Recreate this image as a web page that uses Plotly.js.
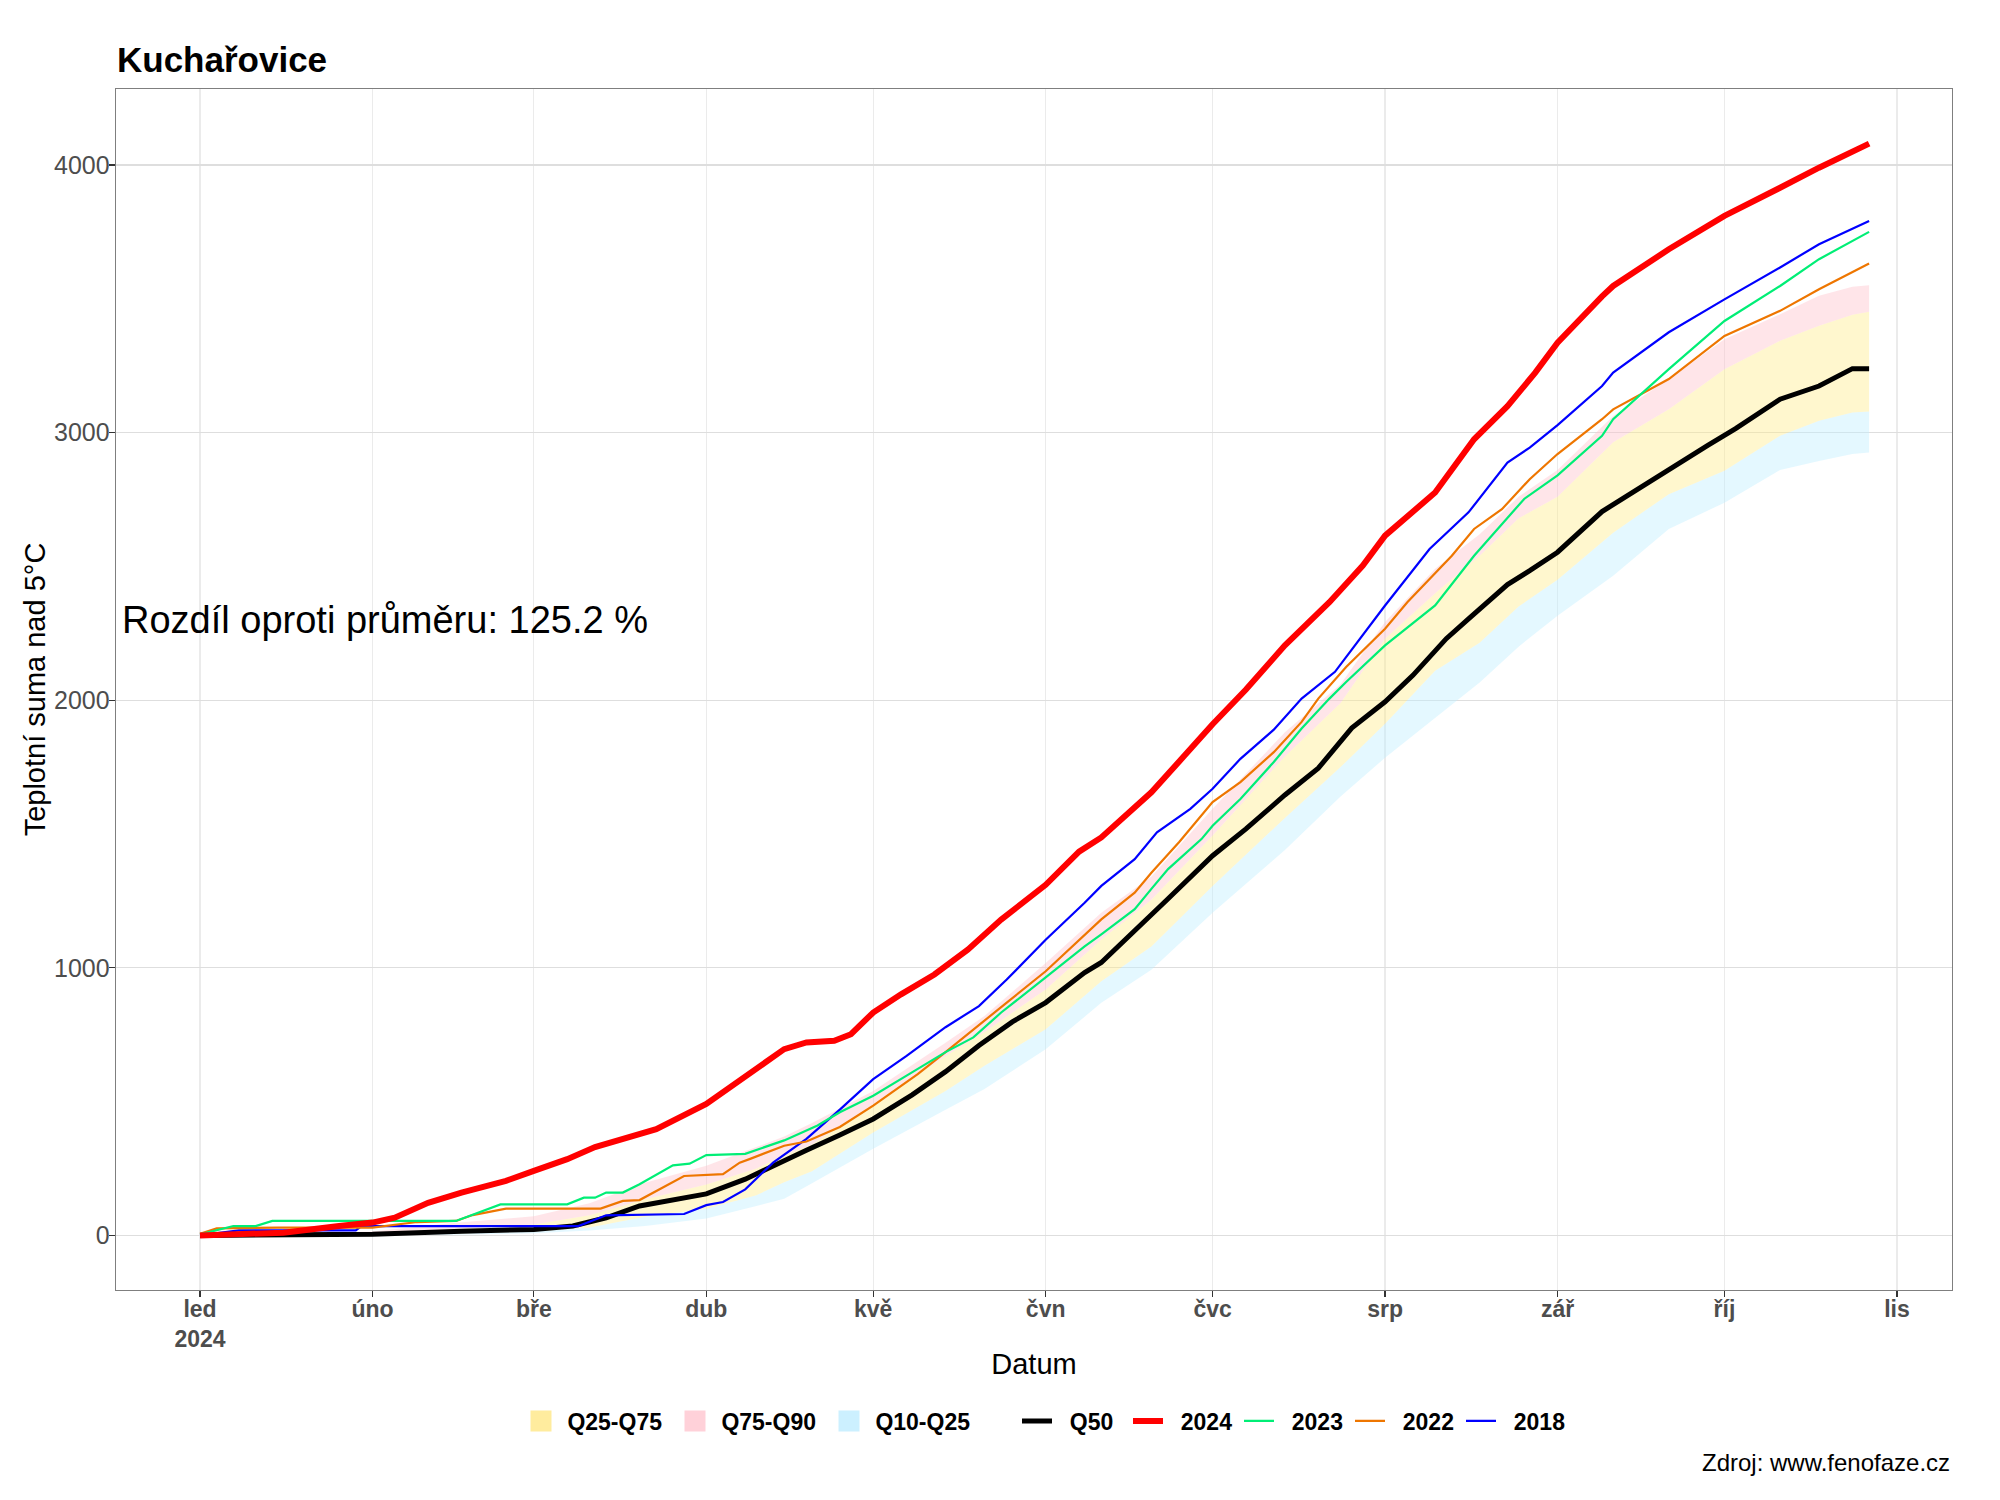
<!DOCTYPE html>
<html>
<head>
<meta charset="utf-8">
<script src="https://cdn.plot.ly/plotly-3.0.1.min.js"></script>
<style>html,body{margin:0;padding:0;background:#fff;}#chart{width:2000px;height:1500px;}</style>
</head>
<body>
<div id="chart"></div>
<script>
// Days are counted from 1 Jan 2024 (day 0 = 1 Jan).
const bandDays = [0,15,31,45,60,70,80,91,100,105,110,121,134,141,152,162,171,182,195,205,213,222,230,237,244,254,264,274,284,291,297,300];
const q10 = [0,0,0,2,8,18,35,63,110,137,195,324,470,547,696,869,993,1206,1440,1640,1785,1935,2066,2200,2316,2465,2640,2738,2860,2894,2920,2926];
const q25 = [0,0,2,6,15,30,70,100,150,199,240,385,540,634,770,950,1080,1306,1560,1750,1912,2110,2215,2350,2450,2626,2770,2857,2988,3044,3075,3079];
const q75 = [0,2,8,25,41,75,135,190,250,300,340,490,670,760,919,1106,1254,1494,1790,1990,2230,2400,2540,2680,2760,2964,3087,3237,3343,3399,3440,3452];
const q90 = [0,5,15,45,72,120,197,260,330,370,420,540,720,820,1018,1206,1341,1594,1880,2060,2292,2491,2620,2760,2860,3062,3200,3349,3442,3511,3545,3551];

const q50Days = [0,19,31,47,60,67,73,79,84,91,98,103,109,115,121,128,134,140,146,152,159,162,169,174,182,188,195,201,207,213,218,224,228,235,239,244,252,263,271,276,284,291,297,300];
const q50 = [0,0,4,16,22,35,66,110,129,155,210,257,318,375,435,525,612,710,798,870,982,1020,1156,1258,1419,1519,1646,1746,1896,1994,2093,2230,2304,2432,2484,2553,2705,2851,2952,3015,3125,3174,3239,3239];

const y2024Days = [0,15,25,31,35,41,47,55,60,66,71,76,82,91,99,105,109,114,117,121,126,132,138,144,152,158,162,165,171,177,182,188,195,203,209,213,222,229,235,240,244,252,254,264,274,284,291,300];
const y2024 = [0,10,35,48,66,122,160,204,241,285,330,360,397,491,610,696,721,727,752,833,901,975,1068,1180,1310,1434,1487,1544,1656,1794,1910,2040,2205,2366,2503,2615,2776,2975,3099,3224,3336,3509,3548,3685,3810,3915,3990,4080];

const y2023Days = [0,6,10,13,46,54,66,69,71,73,76,79,85,88,91,96,98,105,111,115,121,127,134,139,144,152,159,162,168,171,174,180,182,187,193,198,203,206,213,222,229,238,244,252,254,264,274,284,291,300];
const y2023 = [4,35,35,54,54,116,116,141,141,160,160,191,262,268,300,302,305,355,411,460,522,597,685,740,833,964,1080,1125,1219,1295,1369,1481,1531,1631,1769,1894,2006,2068,2205,2354,2540,2752,2840,2988,3050,3237,3417,3548,3648,3750];

const y2022Days = [0,3,14,31,39,46,49,55,72,76,79,87,94,97,99,105,109,115,121,129,134,139,145,152,159,162,168,171,176,180,182,187,193,198,201,206,213,217,225,229,234,239,244,252,254,264,274,284,291,300];
const y2022 = [6,26,29,29,50,54,76,100,100,129,132,222,229,272,287,335,351,405,485,603,685,770,870,987,1124,1181,1281,1355,1470,1569,1619,1694,1806,1919,2006,2124,2267,2366,2540,2640,2714,2826,2920,3050,3087,3200,3361,3455,3536,3632];

const y2018Days = [0,7,28,29,68,73,87,91,94,98,103,109,115,121,127,134,140,145,152,159,162,168,172,178,182,187,193,198,204,209,213,221,228,235,239,244,252,254,264,274,284,291,300];
const y2018 = [0,19,19,35,35,75,80,113,125,172,272,361,470,584,671,778,857,956,1105,1243,1306,1406,1506,1594,1669,1781,1890,2006,2106,2242,2354,2565,2702,2888,2944,3028,3174,3224,3375,3498,3617,3704,3791];

const monthStarts = ['2024-01-01','2024-02-01','2024-03-01','2024-04-01','2024-05-01','2024-06-01','2024-07-01','2024-08-01','2024-09-01','2024-10-01','2024-11-01'];
const monthLabels = ['led<br>2024','úno','bře','dub','kvě','čvn','čvc','srp','zář','říj','lis'];
const yTicks = [0,1000,2000,3000,4000];

const FONT = 'Liberation Sans, Arial, Helvetica, sans-serif';
const NB = '\u00A0';
const day0 = Date.UTC(2024,0,1);
function toDate(d){ return new Date(day0 + d*86400000).toISOString().replace('T',' ').slice(0,19); }
const D = arr => arr.map(toDate);
const bx = D(bandDays);

function swatch(name, color, rank){
  return {x:[null], y:[null], type:'scatter', mode:'markers', name:NB+name,
          marker:{symbol:'square', size:16, color:color, line:{color:color, width:5}},
          legend:'legend', legendrank:rank};
}

const traces = [
  {x:bx, y:q10, type:'scatter', mode:'lines', line:{width:0, color:'rgba(0,0,0,0)'}, showlegend:false, hoverinfo:'skip'},
  {x:bx, y:q25, type:'scatter', mode:'lines', line:{width:0, color:'rgba(0,0,0,0)'}, fill:'tonexty', fillcolor:'rgba(191,239,255,0.42)', showlegend:false, hoverinfo:'skip'},
  {x:bx, y:q75, type:'scatter', mode:'lines', line:{width:0, color:'rgba(0,0,0,0)'}, fill:'tonexty', fillcolor:'rgba(255,236,139,0.42)', showlegend:false, hoverinfo:'skip'},
  {x:bx, y:q90, type:'scatter', mode:'lines', line:{width:0, color:'rgba(0,0,0,0)'}, fill:'tonexty', fillcolor:'rgba(255,192,203,0.42)', showlegend:false, hoverinfo:'skip'},
  // legend keys for the ribbons
  swatch('Q25-Q75', '#FFEC9E', 1),
  swatch('Q75-Q90', '#FFD1D9', 2),
  swatch('Q10-Q25', '#CCF0FF', 3),
  // lines
  {x:D(q50Days), y:q50, type:'scatter', mode:'lines', name:NB+NB+'Q50', line:{color:'#000000', width:5}, legend:'legend2', legendrank:1},
  {x:D(y2018Days), y:y2018, type:'scatter', mode:'lines', name:NB+NB+'2018', line:{color:'#0000FF', width:2.2}, legend:'legend2', legendrank:5},
  {x:D(y2022Days), y:y2022, type:'scatter', mode:'lines', name:NB+NB+'2022', line:{color:'#EE7600', width:2.2}, legend:'legend2', legendrank:4},
  {x:D(y2023Days), y:y2023, type:'scatter', mode:'lines', name:NB+NB+'2023', line:{color:'#00EE76', width:2.2}, legend:'legend2', legendrank:3},
  {x:D(y2024Days), y:y2024, type:'scatter', mode:'lines', name:NB+NB+'2024', line:{color:'#FF0000', width:6}, legend:'legend2', legendrank:2}
];

const legendCommon = {
  orientation:'h', xref:'container', yref:'container', xanchor:'left', yanchor:'middle',
  y:1-1421/1500, font:{family:FONT, size:23, color:'#000', weight:'bold'},
  bgcolor:'rgba(0,0,0,0)', itemwidth:30, traceorder:'normal', entrywidthmode:'pixels'
};

const layout = {
  width:2000, height:1500,
  paper_bgcolor:'#ffffff', plot_bgcolor:'#ffffff',
  margin:{l:116, r:48, t:89, b:210},
  font:{family:FONT, color:'#000'},
  title:{text:'Kuchařovice', font:{family:FONT, size:35, color:'#000', weight:'bold'},
         xref:'container', yref:'container', x:117/2000, xanchor:'left', y:1-60/1500, yanchor:'middle'},
  xaxis:{
    type:'date', range:[toDate(-15.1), toDate(314.9)],
    tickmode:'array', tickvals:monthStarts, ticktext:monthLabels,
    tickfont:{family:FONT, size:23, color:'#4D4D4D', weight:'bold'},
    ticks:'outside', ticklen:6, tickwidth:1.3, tickcolor:'#333333', ticklabelstandoff:-8,
    showgrid:true, gridcolor:'#EBEBEB', gridwidth:1.3,
    showline:true, linecolor:'#7F7F7F', linewidth:1.3, mirror:true, zeroline:false,
    title:{text:'Datum', font:{family:FONT, size:29, color:'#000'}, standoff:3}
  },
  yaxis:{
    range:[-204, 4284], tickmode:'array', tickvals:yTicks, ticktext:yTicks.map(String),
    tickfont:{family:FONT, size:25, color:'#4D4D4D'},
    ticks:'outside', ticklen:6, tickwidth:1.3, tickcolor:'#333333', ticklabelstandoff:-6,
    showgrid:true, gridcolor:'#DEDEDE', gridwidth:1.3,
    showline:true, linecolor:'#7F7F7F', linewidth:1.3, mirror:true, zeroline:false,
    title:{text:'Teplotní suma nad 5°C', font:{family:FONT, size:29, color:'#000'}, standoff:0}
  },
  legend:Object.assign({}, legendCommon, {x:521/2000, entrywidth:109}),
  legend2:Object.assign({}, legendCommon, {x:1017/2000, entrywidth:66}),
  annotations:[
    {text:'Rozdíl oproti průměru: 125.2 %', xref:'paper', yref:'y', x:0.002, y:2300,
     xanchor:'left', yanchor:'middle', showarrow:false, font:{family:FONT, size:38, color:'#000'}},
    {text:'Zdroj: www.fenofaze.cz', xref:'paper', yref:'paper', x:1, y:-(1462-1290)/1201,
     xanchor:'right', yanchor:'middle', showarrow:false, font:{family:FONT, size:24, color:'#000'}}
  ],
  showlegend:true
};

Plotly.newPlot('chart', traces, layout, {displayModeBar:false, staticPlot:true});
</script>
</body>
</html>
